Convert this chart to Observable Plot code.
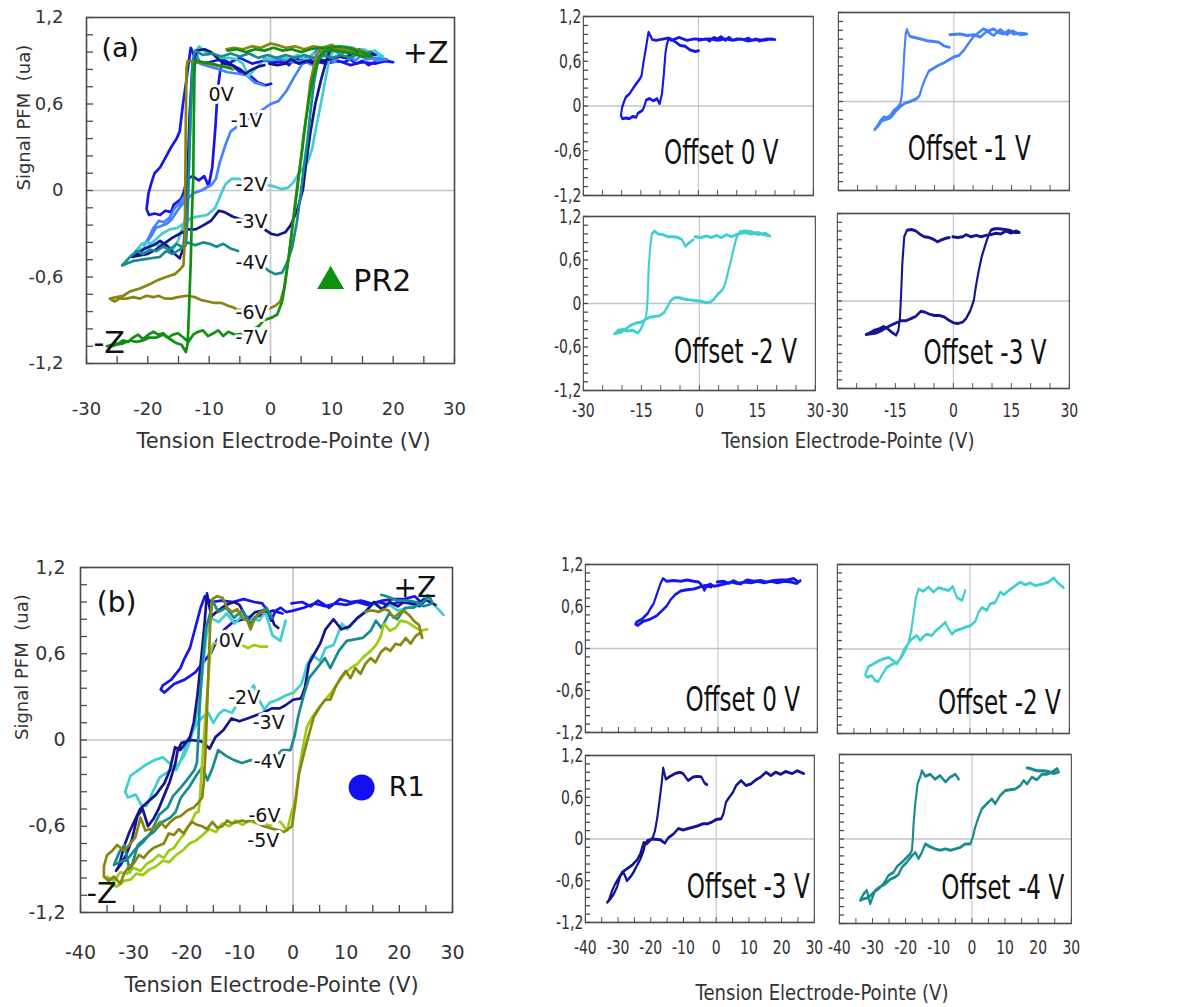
<!DOCTYPE html>
<html><head><meta charset="utf-8">
<script src="https://cdn.jsdelivr.net/npm/d3@7"></script>
<script src="https://cdn.jsdelivr.net/npm/@observablehq/plot@0.6"></script>
<style>
body{margin:0;background:#fff;}
#root{position:relative;width:1184px;height:1007px;overflow:hidden;background:#fff;font-family:"DejaVu Sans",sans-serif;}
.panel{position:absolute;transform-origin:0 0;}
.gtitle{position:absolute;width:420px;text-align:center;font-family:"DejaVu Sans",sans-serif;font-size:21px;color:#333;line-height:24px;transform:scaleX(0.86);}
</style></head><body><div id="root"></div>
<script>
// ---------------- DATA (PR2, panel a) ----------------
const offsetsA = ["0V", "-1V", "-2V", "-3V", "-4V", "-6V", "-7V"];
const colorsA = ["#1515ee", "#4482ff", "#3fcfcf", "#141490", "#188c8c", "#868610", "#109010"];
const loopA_0V = [[0,0.88],[2,0.9],[3,0.87],[4,0.92],[5,0.9],[6,0.93],[7,0.88],[8,0.92],[9,0.88],[10,0.9],[12,0.89],[13,0.91],[14,0.88],[15,0.9],[16,0.87],[17,0.89],[18,0.9],[20,0.89],[19,0.9],[17,0.88],[15,0.89],[13,0.87],[11,0.9],[9,0.88],[7,0.9],[5,0.88],[3,0.9],[1,0.89],[-1,0.9],[-3,0.88],[-5,0.92],[-6,0.9],[-7,0.88],[-8,0.91],[-9,0.9],[-10,0.89],[-11,0.88],[-12,0.89],[-13,0.99],[-13.2,0.93],[-13.8,0.74],[-14.3,0.59],[-14.8,0.41],[-15.3,0.36],[-16.2,0.3],[-17.1,0.23],[-18,0.16],[-18.9,0.12],[-19.3,0.07],[-19.9,-0.02],[-20.2,-0.13],[-19.8,-0.17],[-18.9,-0.16],[-18,-0.17],[-17.1,-0.14],[-16.2,-0.15],[-15.8,-0.1],[-14.6,-0.06],[-14.2,-0.02],[-13.6,0.08],[-12.7,0.1],[-11.7,0.07],[-10.8,0.1],[-10.1,0.03],[-9.5,0.16],[-9.0,0.43],[-8.6,0.7],[-8.2,0.83],[-7.7,0.91],[-6.9,0.89],[-6,0.86],[-4.7,0.81],[-3.4,0.8],[-2.1,0.75],[-0.8,0.73],[0.1,0.74]];
const loopA_m1V = [[-1.1,0.73],[-2.6,0.75],[-3.9,0.8],[-5.2,0.81],[-7,0.82],[-8.3,0.84],[-10,0.86],[-11.5,0.88],[-12.2,0.97],[-12.5,0.91],[-12.9,0.64],[-13.2,0.33],[-13.5,0.1],[-13.9,-0.03],[-14.8,-0.09],[-15.6,-0.12],[-16.5,-0.19],[-17.4,-0.22],[-18.2,-0.21],[-19.1,-0.26],[-20,-0.34],[-20.6,-0.38],[-19.5,-0.32],[-18.7,-0.26],[-16.9,-0.23],[-16.1,-0.2],[-15.2,-0.14],[-13.9,-0.07],[-12.6,-0.02],[-11.3,0],[-9.6,0.04],[-8.9,0.08],[-8.3,0.19],[-7.4,0.31],[-6.5,0.41],[-5.2,0.45],[-3.9,0.49],[-2.6,0.52],[-1.3,0.56],[0,0.6],[1.3,0.62],[2.6,0.69],[3.9,0.79],[5.2,0.88],[6.5,0.93],[7.7,0.98],[9,0.95],[10.3,0.98],[11.6,0.93],[12.9,0.91],[14.2,0.96],[15.5,0.91],[17.3,0.92],[19,0.91],[17.3,0.9],[15.1,0.95],[13.8,0.9],[12.1,0.97],[10.3,0.89],[8.6,0.95],[6.9,0.87],[5.2,0.9],[3.4,0.89],[1.7,0.91],[-1.1,0.9]];
const loopA_m2V = [[-1.2,0.92],[0.5,0.91],[1.8,0.93],[3.1,0.91],[4.4,0.94],[5.7,0.91],[7,0.95],[8.3,0.92],[10,0.96],[11.8,0.98],[13.5,0.96],[15.2,0.98],[16.5,0.95],[18.3,0.93],[17,0.97],[15.2,0.95],[13.5,0.99],[11.8,1],[10.5,0.99],[9.6,0.91],[9,0.78],[8.3,0.62],[7.4,0.43],[6.8,0.29],[6,0.19],[4.8,0.13],[3.8,0.06],[2.9,0.02],[1.8,0.01],[0.5,0.03],[-1.2,0.04],[-2.5,0.05],[-3.8,0.06],[-5.1,0.08],[-6.4,0.08],[-7.4,0.04],[-8.1,-0.03],[-9,-0.12],[-10.3,-0.17],[-11.6,-0.18],[-12.9,-0.19],[-14.2,-0.23],[-15.2,-0.26],[-16.4,-0.27],[-17.7,-0.3],[-19,-0.35],[-20.3,-0.4],[-21.6,-0.41],[-22,-0.42],[-21,-0.37],[-19.8,-0.36],[-18.5,-0.38],[-17.2,-0.37],[-15.9,-0.41],[-15.1,-0.35],[-14.4,-0.26],[-13.8,-0.19],[-13.5,-0.05],[-13.3,0.18],[-13.1,0.5],[-12.7,0.78],[-12.3,0.96],[-11.6,1],[-10.7,0.96],[-9.4,0.95],[-8.1,0.92],[-6.8,0.92],[-5.5,0.91],[-4.5,0.88],[-3.6,0.79],[-2.8,0.83],[-1.6,0.88]];
const loopA_m3V = [[-0.2,0.88],[1.1,0.87],[2.4,0.88],[3.3,0.91],[4.6,0.88],[5.9,0.9],[7.2,0.88],[8.4,0.9],[9.7,0.91],[11,0.93],[12.3,0.92],[13.6,0.96],[14.9,0.93],[16.2,0.96],[17.1,0.94],[15.9,0.94],[14.5,0.97],[13.2,0.98],[11.9,0.99],[10.6,0.99],[9.7,0.97],[9.1,0.9],[8.2,0.76],[7.3,0.6],[6.5,0.4],[5.8,0.19],[5.3,0.01],[4.4,-0.13],[3.3,-0.24],[2.4,-0.29],[1.1,-0.31],[0.1,-0.3],[-1,-0.27],[-2.3,-0.22],[-3.6,-0.2],[-4.9,-0.2],[-6.2,-0.18],[-7.5,-0.15],[-8.4,-0.14],[-9.7,-0.21],[-10.9,-0.24],[-12.2,-0.27],[-13.5,-0.27],[-14.8,-0.3],[-16.1,-0.33],[-17.4,-0.37],[-18.7,-0.41],[-20,-0.44],[-21.3,-0.45],[-22.6,-0.46],[-21.7,-0.44],[-20.4,-0.4],[-19.1,-0.38],[-18,-0.35],[-17,-0.38],[-15.9,-0.43],[-14.8,-0.47],[-14.2,-0.4],[-13.8,-0.22],[-13.5,0.1],[-13.2,0.51],[-12.7,0.88],[-12,0.97],[-10.8,0.98],[-9.7,0.96],[-8.5,0.91],[-7.5,0.88],[-6.2,0.87],[-4.9,0.84],[-4.1,0.81],[-3,0.84],[-1.9,0.86],[-1,0.87]];
const loopA_m4V = [[-1.1,-0.53],[-0.2,-0.56],[0.8,-0.58],[1.9,-0.57],[2.7,-0.5],[3.5,-0.4],[4.3,-0.22],[4.9,-0.03],[5.4,0.15],[6,0.34],[6.5,0.54],[7.1,0.75],[7.6,0.87],[8.2,0.95],[9,0.98],[10.1,0.99],[11.5,0.97],[12.5,0.99],[13.5,0.96],[14.5,0.98],[15.5,0.95],[16.3,0.96],[15.5,0.93],[14.5,0.95],[13,0.92],[11.5,0.94],[10,0.92],[8.5,0.94],[7,0.92],[5.5,0.94],[4,0.92],[2.5,0.94],[1,0.92],[-0.5,0.94],[-2,0.92],[-3.5,0.95],[-5,0.93],[-6.5,0.95],[-8,0.93],[-9.5,0.95],[-11,0.94],[-12.3,0.97],[-12.7,0.9],[-13,0.6],[-13.2,0.3],[-13.4,0],[-13.6,-0.25],[-13.8,-0.38],[-14.8,-0.41],[-16,-0.44],[-17,-0.42],[-18,-0.46],[-19.5,-0.47],[-21,-0.48],[-22.5,-0.49],[-24.2,-0.52],[-22.9,-0.46],[-21.8,-0.42],[-20.8,-0.44],[-19.7,-0.41],[-18.6,-0.42],[-17.5,-0.39],[-16.4,-0.41],[-15.3,-0.37],[-14.5,-0.39],[-13.5,-0.36],[-12.3,-0.38],[-11,-0.36],[-9.9,-0.37],[-8.8,-0.39],[-7.7,-0.37],[-6.6,-0.4],[-5.3,-0.42]];
const loopA_m6V = [[-7.2,0.98],[-6,0.99],[-4.5,0.98],[-3,1],[-1.5,0.99],[0,1.02],[1,1.01],[2.5,0.99],[4,1],[5.5,0.98],[7,1],[8.5,0.99],[10,1.01],[11.5,0.98],[13,0.99],[14.5,0.97],[15.5,0.96],[14.5,0.94],[13,0.96],[11.5,0.97],[10.2,0.99],[9.2,0.99],[8.4,0.98],[7.6,0.95],[7.1,0.87],[6.5,0.75],[6,0.57],[5.4,0.38],[4.9,0.2],[4.3,0.01],[3.8,-0.17],[3.3,-0.36],[2.7,-0.54],[2.2,-0.68],[1.6,-0.77],[0.8,-0.8],[-0.3,-0.82],[-1.6,-0.82],[-3.5,-0.82],[-5.3,-0.83],[-6.1,-0.81],[-6.9,-0.8],[-8,-0.78],[-9.1,-0.78],[-10.2,-0.77],[-11.3,-0.76],[-12.3,-0.74],[-13.7,-0.73],[-15.1,-0.74],[-16.1,-0.75],[-17.2,-0.75],[-18.3,-0.73],[-19.1,-0.74],[-20.2,-0.73],[-21.3,-0.75],[-22.4,-0.74],[-23.5,-0.75],[-24.6,-0.75],[-25.4,-0.77],[-26.2,-0.75],[-25.1,-0.74],[-24,-0.73],[-22.9,-0.7],[-21.3,-0.68],[-19.7,-0.65],[-18.3,-0.62],[-17,-0.6],[-15.6,-0.58],[-14.8,-0.55],[-14.2,-0.52],[-14,-0.38],[-13.9,0],[-13.8,0.5],[-13.7,0.85],[-13.5,0.9],[-12.1,0.89],[-10.5,0.88],[-9,0.87],[-7.5,0.86],[-6.1,0.84]];
const loopA_m7V = [[-7,0.97],[-5.5,0.98],[-4,0.96],[-2.5,0.98],[-1,0.97],[0.5,0.99],[2,0.97],[3.5,0.98],[5,0.96],[6.5,0.98],[8,0.99],[9.8,0.99],[11.1,1],[12.8,0.99],[14.1,0.97],[15.5,0.95],[16.5,0.93],[15,0.93],[13.5,0.95],[12,0.96],[10.5,0.97],[9.5,0.97],[8.7,0.96],[7.9,0.91],[7.3,0.84],[6.8,0.76],[6.3,0.64],[5.7,0.47],[5.2,0.29],[4.6,0.1],[4.1,-0.08],[3.5,-0.27],[3,-0.45],[2.4,-0.64],[1.9,-0.77],[1.1,-0.86],[0.3,-0.88],[-1.1,-0.9],[-1.9,-0.94],[-3.5,-0.98],[-5.3,-1],[-5.8,-1],[-6.9,-0.98],[-7.7,-1.01],[-8.5,-0.97],[-9.3,-0.99],[-10.2,-1.01],[-11,-0.97],[-11.8,-0.98],[-12.6,-1],[-13.4,-1.05],[-14.2,-1.02],[-15.1,-0.99],[-15.9,-1],[-16.7,-1.02],[-17.5,-0.99],[-18.3,-1],[-19.1,-0.98],[-19.9,-1],[-20.8,-1.03],[-21.6,-1],[-22.4,-1.02],[-23.2,-1.05],[-24,-1.04],[-24.8,-1.06],[-25.9,-1.07],[-26.7,-1.08],[-25.9,-1.08],[-25.1,-1.07],[-24,-1.06],[-22.9,-1.04],[-21.8,-1.05],[-20.8,-1.04],[-19.7,-1.02],[-18.6,-1.02],[-17.5,-1],[-16.4,-1.03],[-15.3,-1.06],[-14.5,-1.07],[-13.8,-1.12],[-13.5,-1.06],[-13.3,-0.84],[-13,-0.49],[-12.8,-0.15],[-12.6,0.08],[-12.5,0.5],[-12.4,0.8],[-12.3,0.9],[-11,0.89],[-9.5,0.88],[-8,0.86],[-6.5,0.85]];

// ---------------- DATA (R1, panel b) ----------------
const offsetsB = ["0V", "-2V", "-3V", "-4V", "-5V", "-6V"];
const colorsB = ["#1515ee", "#3fcfcf", "#141490", "#188c8c", "#9ccc14", "#868610"];
const loopB_0V = [[-0.3,0.95],[1.7,0.96],[3.3,0.93],[4.7,0.97],[6.8,0.92],[8.8,0.98],[10.8,0.96],[12.8,0.97],[14.8,0.95],[16.8,0.97],[18.9,0.98],[20.9,0.98],[22.9,1],[24.3,0.95],[24.9,0.97],[23.8,0.93],[22,0.95],[20,0.96],[18,0.94],[16,0.96],[14,0.94],[12,0.96],[10,0.94],[8,0.95],[6,0.93],[4,0.95],[2,0.92],[0,0.9],[-1.3,0.89],[-2.3,0.92],[-3.3,0.9],[-4.1,0.83],[-4.8,0.9],[-5.8,0.95],[-7.3,0.96],[-9.3,0.98],[-11.3,0.96],[-13.4,0.97],[-15.4,0.96],[-16.6,1],[-17.4,0.92],[-18.4,0.78],[-19.4,0.64],[-20.4,0.57],[-21.2,0.5],[-22.9,0.42],[-24.5,0.38],[-24.9,0.35],[-24.2,0.33],[-22.4,0.39],[-20.4,0.42],[-18.4,0.47],[-16.9,0.54],[-15.4,0.61],[-14.4,0.69],[-12.9,0.77],[-11.3,0.82],[-9.3,0.84],[-7.3,0.85],[-5.3,0.88],[-3.8,0.9],[-2,0.88]];
const loopB_m2V = [[-1.4,0.83],[-2.4,0.69],[-3.9,0.73],[-5.2,0.89],[-6.4,0.83],[-7.9,0.85],[-9.5,0.87],[-11,0.81],[-12.5,0.88],[-14,0.82],[-15.5,0.85],[-16.3,0.73],[-17,0.5],[-17.7,0.26],[-18.5,0.1],[-19.5,-0.02],[-20.5,-0.11],[-22,-0.19],[-23.5,-0.22],[-25.1,-0.26],[-26.4,-0.36],[-27.6,-0.46],[-28.6,-0.45],[-29.6,-0.38],[-31.1,-0.4],[-31.6,-0.36],[-30.6,-0.25],[-29.1,-0.21],[-27.6,-0.17],[-26.1,-0.14],[-24.5,-0.12],[-23,-0.17],[-22,-0.21],[-21,-0.13],[-20,-0.02],[-19,0.05],[-18,0.12],[-17,0.16],[-16,0.19],[-15,0.12],[-14,0.18],[-13,0.21],[-11.5,0.19],[-10.5,0.25],[-9,0.31],[-7.4,0.38],[-6.4,0.28],[-5.4,0.21],[-4.4,0.26],[-2.9,0.28],[-1.4,0.31],[0.1,0.33],[1.6,0.39],[2.6,0.52],[3.6,0.59],[5.1,0.55],[6.1,0.64],[7.6,0.66],[9.2,0.81],[10.2,0.77],[11.7,0.83],[13.7,0.9],[15.2,0.95],[16.7,0.91],[18.2,0.94],[19.7,0.9],[21.7,0.92],[23.7,0.95],[25.3,1.01],[26.3,0.95],[27.3,0.91],[28.3,0.87]];
const loopB_m3V = [[-2.8,0.78],[-3.5,0.8],[-4.5,0.89],[-5.6,0.9],[-7.1,0.89],[-8.6,0.84],[-10.1,0.94],[-11.1,0.96],[-12.6,0.94],[-14.1,0.9],[-15.4,0.86],[-16.2,1.02],[-16.7,0.79],[-17.2,0.6],[-18,0.31],[-18.7,0.12],[-19.4,0.02],[-21.2,-0.07],[-22.2,-0.05],[-23.2,-0.21],[-24.2,-0.3],[-25.8,-0.38],[-27.3,-0.43],[-28.8,-0.48],[-30.8,-0.64],[-31.8,-0.74],[-32.8,-0.88],[-33.3,-0.91],[-32.3,-0.86],[-31.3,-0.79],[-30.3,-0.69],[-29.3,-0.53],[-28.3,-0.48],[-27.3,-0.6],[-26.3,-0.55],[-25.3,-0.48],[-24.2,-0.38],[-23.2,-0.29],[-22.2,-0.17],[-21.7,-0.07],[-21,-0.02],[-19.2,0],[-17.2,-0.01],[-15.7,-0.06],[-14.6,0.02],[-13.1,0.07],[-11.6,0.15],[-10.1,0.13],[-8.6,0.15],[-7.1,0.17],[-5.6,0.19],[-4,0.22],[-2.5,0.22],[-1.5,0.24],[0,0.28],[1.5,0.29],[2.2,0.36],[3,0.53],[4,0.6],[5.1,0.67],[6.1,0.77],[7.6,0.84],[9.1,0.77],[10.6,0.79],[12.1,0.85],[13.6,0.89],[15.2,0.96],[16.7,0.91],[18.2,0.96],[19.7,0.93],[21.2,0.97],[23.2,0.94],[24.7,0.98],[26.8,0.94]];
const loopB_m4V = [[-4,0.85],[-5,0.92],[-6.5,0.88],[-8,0.81],[-9.6,0.9],[-11.1,0.85],[-12.6,0.92],[-14.1,0.89],[-15.1,0.97],[-15.6,0.88],[-16.4,0.78],[-17.1,0.5],[-17.6,0.22],[-17.8,0.03],[-18.1,-0.16],[-18.6,-0.21],[-19.6,-0.26],[-21.1,-0.33],[-22.6,-0.39],[-23.6,-0.47],[-25.2,-0.52],[-26.7,-0.64],[-28.2,-0.71],[-29.7,-0.76],[-31.2,-0.83],[-32.7,-0.85],[-33.7,-0.87],[-32.7,-0.78],[-31.7,-0.73],[-30.7,-0.92],[-29.2,-0.73],[-27.7,-0.68],[-26.2,-0.64],[-24.6,-0.57],[-23.1,-0.54],[-22.1,-0.5],[-21.1,-0.4],[-19.6,-0.33],[-18.1,-0.24],[-17.1,-0.19],[-16.1,-0.28],[-15.1,-0.19],[-14.1,-0.07],[-12.6,-0.11],[-11.1,-0.14],[-9.6,-0.16],[-8,-0.14],[-6.5,-0.16],[-5,-0.14],[-3.5,-0.12],[-2,-0.07],[-0.5,-0.07],[0.3,0.03],[1,0.17],[2,0.31],[3,0.43],[4.5,0.5],[6,0.57],[7,0.5],[8.6,0.62],[10.1,0.69],[11.6,0.7],[13.1,0.71],[14.6,0.76],[15.6,0.83],[16.6,0.78],[18.1,0.88],[19.6,0.84],[21.1,0.92],[22.6,0.92],[24.1,0.95],[25.7,1],[26.2,0.95],[24.6,0.93],[23.1,0.96],[21.6,0.97],[19.6,0.97],[17.6,1],[16.6,1.01]];
const loopB_m5V = [[-4.9,0.65],[-6.1,0.65],[-7.4,0.66],[-8.5,0.64],[-9.6,0.66],[-11,0.67],[-12.5,0.66],[-14,0.68],[-15,0.67],[-15.6,0.6],[-16,0.4],[-16.4,0.2],[-16.8,0],[-17.2,-0.2],[-17.5,-0.4],[-17.8,-0.5],[-18.4,-0.51],[-19,-0.56],[-19.9,-0.61],[-20.6,-0.66],[-21.5,-0.7],[-22.4,-0.75],[-23.4,-0.77],[-24.3,-0.82],[-25.3,-0.8],[-26.5,-0.84],[-27.5,-0.86],[-28.7,-0.91],[-30,-0.89],[-31.2,-0.93],[-32.5,-0.92],[-33.7,-0.98],[-35,-0.95],[-34.5,-1],[-33.2,-1.02],[-31.8,-0.98],[-30.5,-0.97],[-29.5,-0.93],[-28.3,-0.94],[-27,-0.9],[-25.8,-0.88],[-24.5,-0.84],[-23.3,-0.85],[-22,-0.8],[-20.8,-0.77],[-19.5,-0.72],[-18.3,-0.7],[-17,-0.66],[-15.8,-0.62],[-14.5,-0.64],[-13.3,-0.58],[-12,-0.6],[-10.8,-0.56],[-9.5,-0.59],[-8.3,-0.56],[-7,-0.58],[-5.8,-0.56],[-4.5,-0.6],[-3.3,-0.57],[-2.4,-0.57],[-1.1,-0.63],[-0.4,-0.52],[0.5,-0.4],[1.1,-0.22],[1.7,-0.08],[2.6,0.09],[3.6,0.16],[4.6,0.21],[5.8,0.27],[7,0.32],[8.3,0.39],[9.5,0.45],[10.8,0.5],[12.1,0.53],[13.3,0.58],[14.6,0.62],[15.6,0.66],[16.5,0.72],[17.1,0.81],[18.2,0.76],[19.3,0.78],[20.2,0.83],[21.5,0.82],[22.7,0.79],[24,0.76],[25.2,0.77]];
const loopB_m6V = [[-5.2,0.9],[-6.4,0.88],[-7.4,0.83],[-8,0.77],[-8.6,0.83],[-9.6,0.85],[-10.5,0.91],[-11.5,0.89],[-12.4,0.92],[-13.3,0.99],[-14.3,1],[-15.2,0.98],[-15.6,0.8],[-15.9,0.5],[-16.2,0.2],[-16.5,-0.1],[-16.8,-0.3],[-17.1,-0.4],[-17.7,-0.43],[-18.7,-0.47],[-19.9,-0.49],[-21.2,-0.53],[-22.1,-0.54],[-23.1,-0.57],[-24,-0.61],[-25,-0.57],[-25.9,-0.61],[-26.8,-0.62],[-27.8,-0.63],[-28.7,-0.54],[-29.7,-0.68],[-30.6,-0.72],[-31.8,-0.77],[-33.1,-0.73],[-34,-0.77],[-35,-0.8],[-35.6,-0.88],[-35.6,-0.95],[-34.7,-0.98],[-33.7,-0.95],[-32.5,-1],[-31.8,-0.93],[-30.9,-0.88],[-30,-0.86],[-29,-0.8],[-28.1,-0.82],[-27.2,-0.78],[-26.2,-0.75],[-24.3,-0.72],[-23.4,-0.65],[-22.4,-0.66],[-21.5,-0.62],[-20.6,-0.65],[-19.9,-0.61],[-19,-0.57],[-18.1,-0.59],[-17.1,-0.6],[-16.2,-0.62],[-15.2,-0.57],[-14.3,-0.61],[-13.3,-0.6],[-12.4,-0.56],[-11.5,-0.58],[-10.5,-0.57],[-9.6,-0.56],[-8.6,-0.57],[-7.7,-0.55],[-7.1,-0.57],[-5.5,-0.6],[-3.6,-0.62],[-2.4,-0.63],[-1.7,-0.64],[-0.2,-0.6],[0.5,-0.42],[1.1,-0.24],[2,-0.1],[3,0.04],[3.9,0.16],[5.2,0.24],[6.1,0.28],[7,0.28],[8,0.37],[8.9,0.43],[9.9,0.48],[10.8,0.43],[11.7,0.5],[12.7,0.46],[13.6,0.53],[14.6,0.57],[15.5,0.54],[16.5,0.61],[17.4,0.64],[18.3,0.62],[19.3,0.67],[20.2,0.66],[21.2,0.71],[22.1,0.67],[23,0.72],[24,0.75],[24.3,0.71],[23.7,0.8],[22.7,0.83],[21.8,0.87],[20.8,0.9],[19.9,0.88],[18.9,0.85],[18,0.9],[17.1,0.91],[16.1,0.89],[15.2,0.9],[14.3,0.9],[13.6,0.89]];

// ---------------- AXES / TICKS ----------------
const xTicks30 = d3.range(-30, 31, 5);
const xTicks40 = d3.range(-40, 31, 5);
const yTicksMinor = d3.range(-10, 11).map(i => +(i * 0.12).toFixed(2));
const yTickLabels = [-1.2, -0.6, 0, 0.6, 1.2];
const xLabelsA = [-30, -20, -10, 0, 10, 20, 30];
const xLabelsB = [-40, -30, -20, -10, 0, 10, 20, 30];
const xLabelsSmallA = [-30, -15, 0, 15, 30];
const xLabelsSmallB = [-40, -30, -20, -10, 0, 10, 20, 30];
const offsetTitlesA = ["Offset 0 V", "Offset -1 V", "Offset -2 V", "Offset -3 V"];
const offsetTitlesB = ["Offset 0 V", "Offset -2 V", "Offset -3 V", "Offset -4 V"];
const xTitle = "Tension Electrode-Pointe (V)";
const yTitle = "Signal PFM  (ua)";

const loopsA = [loopA_0V, loopA_m1V, loopA_m2V, loopA_m3V, loopA_m4V, loopA_m6V, loopA_m7V];
const loopsB = [loopB_0V, loopB_m2V, loopB_m3V, loopB_m4V, loopB_m5V, loopB_m6V];

// ---------------- RENDER ----------------
const root = document.getElementById("root");
const FONT = "'DejaVu Sans', 'Liberation Sans', sans-serif";
const INK = "#333";
const FRAME = "#4a4a4a";
const GRID = "#c4c4c4";
const commaFmt = d => String(+d.toFixed(1)).replace(".", ",");

function txt(t, x, y, size, opts = {}) {
  return Plot.text([t], {x: () => x, y: () => y, text: d => d, fontSize: size, fill: opts.fill || "#111",
    textAnchor: opts.anchor || "middle", stroke: opts.halo ? "white" : null, strokeWidth: opts.halo ? 6 : 0,
    strokeLinejoin: "round", fontFamily: FONT, rotate: opts.rotate || 0});
}

function panel(c) {
  const sx = c.sx || 1;
  const [L, R, T, B] = c.frame;
  const W = (R - L + c.mL + c.mR) / sx;
  const H = B - T + c.mT + c.mB;
  const innerW = (R - L) / sx, innerH = B - T;
  const marks = [
    Plot.ruleX([0], {stroke: GRID, strokeWidth: 1.6}),
    Plot.ruleY([0], {stroke: GRID, strokeWidth: 1.6}),
    ...c.series.map(s => Plot.line(s.data, {x: d => d[0], y: d => d[1], stroke: s.color,
      strokeWidth: c.lw, strokeLinejoin: "round", strokeLinecap: "round"})),
    ...(c.notes || []),
    Plot.frame({stroke: FRAME, strokeWidth: 1.6}),
    Plot.tickX(c.xTicks, {x: d => d, insetTop: innerH - c.tickLen, stroke: FRAME, strokeWidth: 1.3}),
    Plot.tickY(yTicksMinor, {y: d => d, insetRight: innerW - c.tickLen / sx, stroke: FRAME, strokeWidth: 1.3})
  ];
  if (c.xLabels) marks.push(Plot.axisX(c.xLabels, {tickSize: 0, tickPadding: c.xPad, tickFormat: d => String(d), fontSize: c.tickFont, label: null}));
  if (c.yLabels) marks.push(Plot.axisY(c.yLabels, {tickSize: 0, tickPadding: c.yPad / sx, tickFormat: commaFmt, fontSize: c.tickFont, label: null}));
  if (c.title) marks.push(Plot.text([c.title.text], {frameAnchor: "bottom", dy: c.title.dy, dx: c.title.dx || 0, text: d => d, fontSize: c.title.size, fill: INK}));
  if (c.ytitle) marks.push(Plot.text([c.ytitle.text], {frameAnchor: "left", dx: c.ytitle.dx, rotate: -90, text: d => d, fontSize: c.ytitle.size, fill: INK}));
  const svg = Plot.plot({
    width: W, height: H,
    marginLeft: c.mL / sx, marginRight: c.mR / sx, marginTop: c.mT, marginBottom: c.mB,
    x: {domain: c.xDomain, axis: c.xLabels ? undefined : null},
    y: {domain: [-1.2, 1.2], axis: c.yLabels ? undefined : null},
    style: {fontFamily: FONT, fontSize: c.tickFont + "px", background: "none", overflow: "visible", maxWidth: "none", color: INK},
    marks
  });
  const div = document.createElement("div");
  div.className = "panel";
  div.style.left = (L - c.mL) + "px";
  div.style.top = (T - c.mT) + "px";
  div.style.width = W + "px";
  div.style.height = H + "px";
  if (sx !== 1) div.style.transform = `scaleX(${sx})`;
  div.append(svg);
  root.append(div);
}

// Panel (a)
panel({
  frame: [86, 454, 17, 363], mL: 86, mR: 20, mT: 17, mB: 100,
  xDomain: [-30, 30], xTicks: xTicks30, tickLen: 7, lw: 2.7, tickFont: 18,
  series: loopsA.map((d, i) => ({data: d, color: colorsA[i]})),
  xLabels: xLabelsA, xPad: 39, yLabels: yTickLabels, yPad: 23,
  title: {text: xTitle, dy: 84, dx: 13, size: 21},
  ytitle: {text: yTitle, dx: -62, size: 18},
  notes: [
    txt(offsetsA[0], -10.1, 0.66, 19, {anchor: "start", halo: true}),
    txt(offsetsA[1], -6.5, 0.48, 19, {anchor: "start", halo: true}),
    txt(offsetsA[2], -5.7, 0.04, 19, {anchor: "start", halo: true}),
    txt(offsetsA[3], -5.7, -0.22, 19, {anchor: "start", halo: true}),
    txt(offsetsA[4], -5.7, -0.5, 19, {anchor: "start", halo: true}),
    txt(offsetsA[5], -5.7, -0.85, 19, {anchor: "start", halo: true}),
    txt(offsetsA[6], -5.7, -1.02, 19, {anchor: "start", halo: true}),
    txt("(a)", -24.5, 0.985, 27),
    txt("+Z", 25.3, 0.95, 30),
    txt("-Z", -26.3, -1.06, 30),
    Plot.dot([0], {x: () => 9.8, y: () => -0.63, symbol: "triangle", r: 10, fill: "#109010"}),
    txt("PR2", 13.5, -0.63, 30, {anchor: "start"})
  ]
});

// Panel (b)
panel({
  frame: [80, 452, 567, 912], mL: 80, mR: 20, mT: 7, mB: 95,
  xDomain: [-40, 30], xTicks: xTicks40, tickLen: 7, lw: 2.7, tickFont: 19,
  series: loopsB.map((d, i) => ({data: d, color: colorsB[i]})),
  xLabels: xLabelsB, xPad: 33, yLabels: yTickLabels, yPad: 15,
  title: {text: xTitle, dy: 79, dx: 5, size: 21},
  ytitle: {text: yTitle, dx: -58, size: 18},
  notes: [
    txt(offsetsB[0], -14.0, 0.69, 19, {anchor: "start", halo: true}),
    txt(offsetsB[1], -12.2, 0.29, 19, {anchor: "start", halo: true}),
    txt(offsetsB[2], -7.6, 0.12, 19, {anchor: "start", halo: true}),
    txt(offsetsB[3], -7.4, -0.15, 19, {anchor: "start", halo: true}),
    txt(offsetsB[5], -8.4, -0.53, 19, {anchor: "start", halo: true}),
    txt(offsetsB[4], -8.6, -0.7, 19, {anchor: "start", halo: true}),
    txt("(b)", -33.2, 0.95, 28),
    txt("+Z", 22.9, 1.06, 28),
    txt("-Z", -36.0, -1.07, 29),
    Plot.dot([0], {x: () => 12.9, y: () => -0.33, r: 13, fill: "#1010f0"}),
    txt("R1", 18.0, -0.33, 27, {anchor: "start"})
  ]
});

// small panels (PR2)
const SX = 0.7;
const smallA = [
  {frame: [583, 813, 16, 195], mL: 30, mB: 3, yL: true, xL: false, t: [6.0, -0.63]},
  {frame: [838, 1069, 12, 190], mL: 3, mB: 3, yL: false, xL: false, t: [4.0, -0.65]},
  {frame: [583, 815, 216, 390], mL: 30, mB: 32, yL: true, xL: true, xPad: 12, t: [9.35, -0.67]},
  {frame: [837, 1069, 213, 388], mL: 3, mB: 35, yL: false, xL: true, xPad: 14, t: [8.2, -0.72]}
];
smallA.forEach((s, i) => panel({
  frame: s.frame, mL: s.mL, mR: 3, mT: 3, mB: s.mB, sx: SX,
  xDomain: [-30, 30], xTicks: xTicks30, tickLen: 5, lw: 3, tickFont: 20,
  series: [{data: loopsA[i], color: colorsA[i]}],
  xLabels: s.xL ? xLabelsSmallA : null, xPad: s.xPad, yLabels: s.yL ? yTickLabels : null, yPad: 2,
  notes: [txt(offsetTitlesA[i], s.t[0], s.t[1], 33)]
}));

// small panels (R1)
const smallBIdx = [0, 1, 2, 3];
const smallB = [
  {frame: [585, 817, 564, 732], mL: 30, mB: 3, yL: true, xL: false, t: [7.5, -0.74]},
  {frame: [837, 1069, 564, 733], mL: 3, mB: 3, yL: false, xL: false, t: [8.9, -0.77]},
  {frame: [585, 814, 755, 922], mL: 30, mB: 35, yL: true, xL: true, xPad: 17, t: [9.8, -0.7]},
  {frame: [839, 1071, 754, 923], mL: 3, mB: 35, yL: false, xL: true, xPad: 16, t: [9.3, -0.7]}
];
smallB.forEach((s, i) => panel({
  frame: s.frame, mL: s.mL, mR: 3, mT: 3, mB: s.mB, sx: SX,
  xDomain: [-40, 30], xTicks: xTicks40, tickLen: 5, lw: 3, tickFont: 20,
  series: [{data: loopsB[smallBIdx[i]], color: colorsB[smallBIdx[i]]}],
  xLabels: s.xL ? xLabelsSmallB : null, xPad: s.xPad, yLabels: s.yL ? yTickLabels : null, yPad: 2,
  notes: [txt(offsetTitlesB[i], s.t[0], s.t[1], 33)]
}));

// group x titles for the small panels
[[848, 441], [822, 993]].forEach(([cx, cy]) => {
  const d = document.createElement("div");
  d.className = "gtitle";
  d.textContent = xTitle;
  d.style.left = (cx - 210) + "px";
  d.style.top = (cy - 12) + "px";
  root.append(d);
});
</script></body></html>
